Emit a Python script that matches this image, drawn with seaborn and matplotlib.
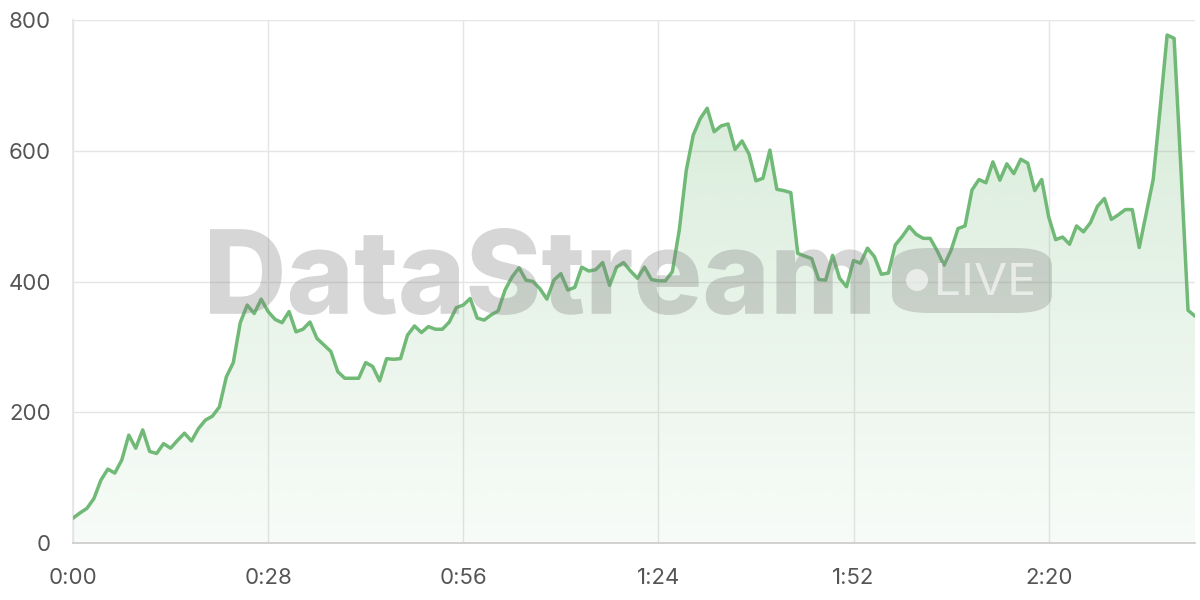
import numpy as np
import pandas as pd
import matplotlib
matplotlib.use("Agg")
import matplotlib.pyplot as plt
import seaborn as sns
from matplotlib.ticker import FuncFormatter
from matplotlib.patches import FancyBboxPatch, Circle, PathPatch
from matplotlib.textpath import TextPath
from matplotlib.font_manager import FontProperties
from matplotlib.transforms import Affine2D, IdentityTransform

# one reading per second, 0:00 .. 2:41
values = [
    38, 46, 53, 68, 96, 113, 107, 127, 165, 145, 173, 140, 137, 152, 145, 157, 168, 156,
    175, 188, 194, 208, 254, 276, 337, 364, 351, 373, 354, 342, 337, 354, 323, 327, 338,
    313, 303, 293, 262, 252, 252, 252, 276, 270, 248, 282, 281, 282, 318, 332, 322, 331,
    327, 327, 338, 360, 364, 374, 344, 341, 349, 355, 387, 407, 421, 402, 400, 389,
    373, 402, 412, 387, 391, 422, 416, 418, 429, 394, 422, 429, 416, 405, 422, 403, 401,
    401, 415,
    479, 570, 624, 649, 665, 629, 638, 641, 602, 615, 595, 554, 558, 601, 541, 539, 536,
    443, 439, 435, 403, 402, 440, 405, 392, 432, 428,
    451, 438, 411, 413, 456, 469, 484, 472, 466, 466, 447, 425, 448, 481, 485, 540, 556,
    551, 583, 555, 580, 565, 587, 581, 539, 556,
    499, 464, 468, 457, 485, 476, 490, 515, 527, 495, 502, 510, 510, 452, 504, 556, 665,
    777, 772, 569, 356, 347,
]
seconds = list(range(len(values)))
x_ticks = [0, 28, 56, 84, 112, 140]
y_ticks = [0, 200, 400, 600, 800]

df = pd.DataFrame({"t": seconds, "v": values})

green = "#70b976"
grid_col = "#e5e5e5"
W, H = 1200, 600

sns.set_theme(style="white")
plt.rcParams['font.family'] = ['Inter', 'DejaVu Sans']

fig = plt.figure(figsize=(12, 6), dpi=100)
ax = fig.add_axes([73 / W, 1 - 543 / H, (1195 - 73) / W, (543 - 20) / H])

# gradient fill under the line
fill = ax.fill_between(df["t"], df["v"], 0, color="none", linewidth=0)
rgba = np.zeros((256, 1, 4))
rgba[..., :3] = matplotlib.colors.to_rgb(green)
rgba[..., 3] = np.linspace(0.05, 0.30, 256).reshape(-1, 1)
im = ax.imshow(rgba, extent=[0, seconds[-1], 0, 800], origin="lower",
               aspect="auto", zorder=1)
im.set_clip_path(fill.get_paths()[0], ax.transData)

sns.lineplot(data=df, x="t", y="v", ax=ax, color=green, linewidth=2.5, zorder=3)

ax.set_xlim(0, seconds[-1])
ax.set_ylim(0, 800)
ax.set_xticks(x_ticks)
ax.set_yticks(y_ticks)
ax.xaxis.set_major_formatter(FuncFormatter(lambda s, _: f"{int(s) // 60}:{int(s) % 60:02d}"))
ax.set_xlabel("")
ax.set_ylabel("")
ax.grid(True, color=grid_col, linewidth=1)
ax.set_axisbelow(True)
for side in ["top", "right"]:
    ax.spines[side].set_visible(False)
ax.spines["left"].set_color(grid_col)
ax.spines["bottom"].set_color("#cccccc")
ax.tick_params(axis="both", length=11, width=1, color=grid_col,
               labelsize=16, labelcolor="#555555")
ax.tick_params(axis="x", pad=7)
ax.tick_params(axis="y", pad=5)


def text_in_box(s, x0, x1, top, bottom, weight, color, alpha, z):
    # fit a text outline into a pixel box (top-left origin)
    tp = TextPath((0, 0), s, size=100, prop=FontProperties(family="Inter", weight=weight))
    ext = tp.get_extents()
    sx = (x1 - x0) / ext.width
    sy = (bottom - top) / ext.height
    tr = (Affine2D().translate(-ext.x0, -ext.y0).scale(sx, sy)
          .translate(x0, H - bottom) + IdentityTransform())
    fig.patches.append(PathPatch(tp, transform=tr, facecolor=color, edgecolor="none",
                                 alpha=alpha, zorder=z))


# watermark
text_in_box("DataStream", 210, 870, 228, 315, "heavy", "#808080", 0.32, 10)
box = FancyBboxPatch((892 / W, 1 - 313 / H), 160 / W, 65 / H,
                     boxstyle="round,pad=0,rounding_size=0.03",
                     transform=fig.transFigure, facecolor="#808080", alpha=0.3,
                     edgecolor="none", zorder=10)
fig.patches.append(box)
fig.patches.append(Circle((917, H - 280), 11, transform=IdentityTransform(),
                          facecolor="white", alpha=0.6, edgecolor="none", zorder=11))
text_in_box("LIVE", 938, 1033, 263, 295, "normal", "white", 0.6, 11)

fig.savefig("out.png", dpi=100)
